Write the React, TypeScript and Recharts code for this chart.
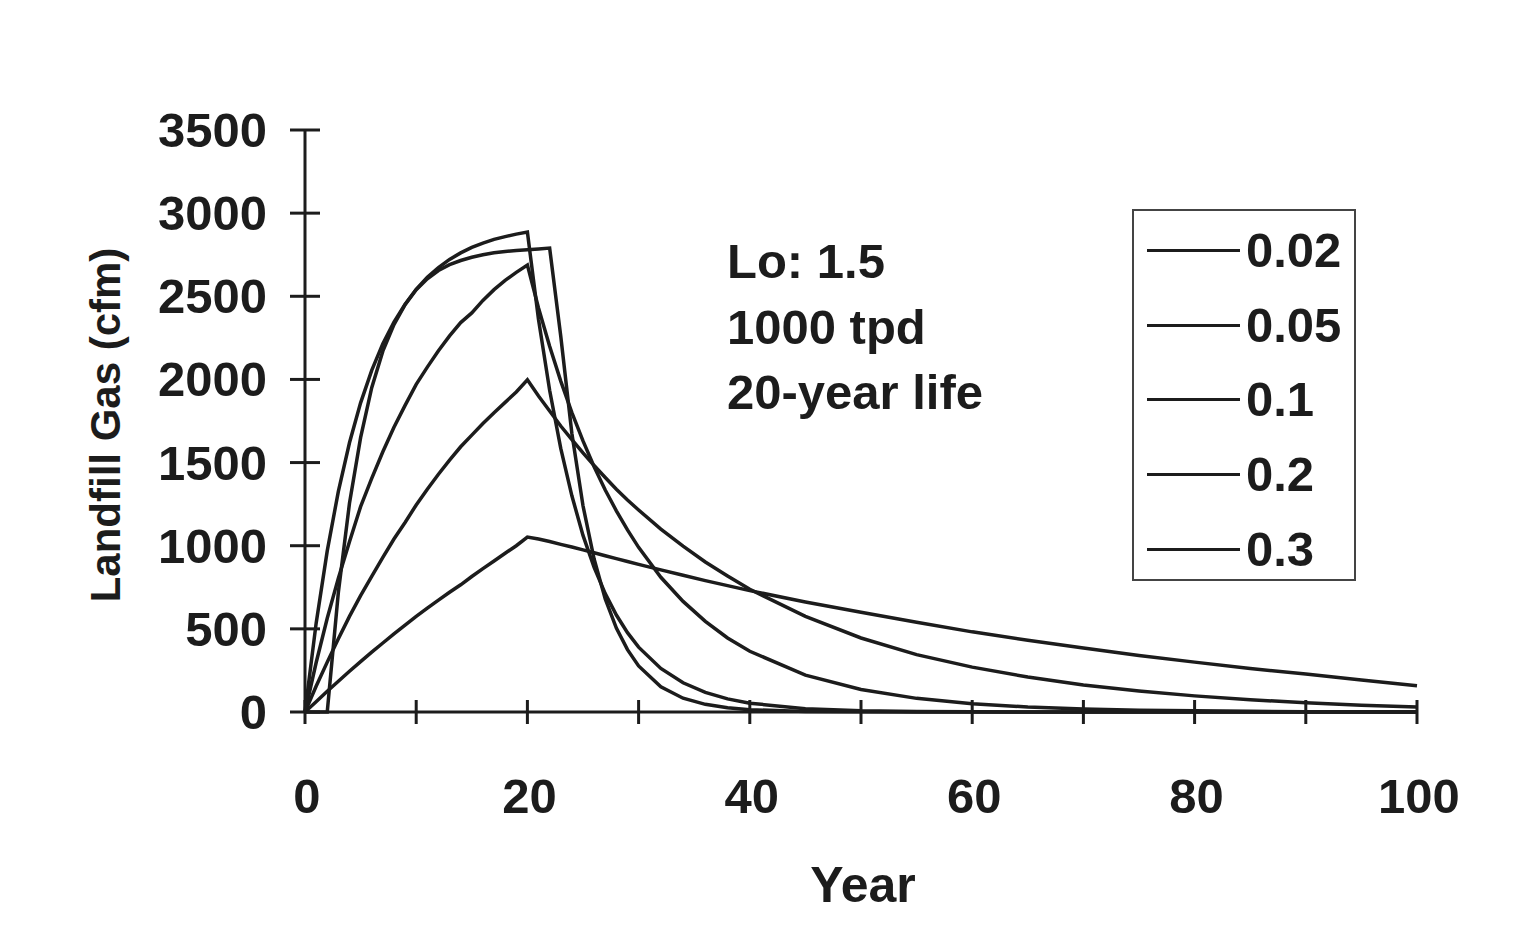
import React from 'react';
import { LineChart, Line, XAxis, YAxis, Legend } from 'recharts';

// years shared by all curves
const years = [
  0, 1, 2, 3, 4, 5, 6, 7, 8, 9, 10, 11, 12, 13, 14, 15, 16, 17, 18, 19, 20,
  21, 22, 23, 24, 25, 26, 27, 28, 29, 30,
  32, 34, 36, 38, 40,
  45, 50, 55, 60, 65, 70, 75, 80, 85, 90, 95, 100,
];

// landfill gas (cfm) per decay rate k
const k002 = [
  0, 62, 125, 185, 245, 303, 360, 415, 470, 522, 575, 625, 673, 720, 765, 815, 862, 908, 955, 1000, 1052,
  1040, 1025, 1008, 992, 975, 958, 940, 922, 905, 888,
  855, 822, 790, 760, 730,
  662, 600, 540, 482, 432, 385, 340, 300, 262, 228, 192, 158,
];
const k005 = [
  0, 155, 300, 440, 575, 700, 815, 930, 1040, 1140, 1245, 1340, 1430, 1515, 1595, 1665, 1735, 1800, 1862, 1925, 1998,
  1900, 1810, 1720, 1638, 1558, 1482, 1410, 1340, 1275, 1215,
  1100, 998, 902, 818, 738,
  575, 445, 345, 270, 210, 162, 126, 97, 74, 55, 40, 30,
];
const k01 = [
  0, 296, 564, 805, 1024, 1235, 1405, 1565, 1712, 1844, 1970, 2074, 2172, 2262, 2342, 2400, 2475, 2540, 2596, 2644, 2688,
  2430, 2200, 1990, 1800, 1630, 1475, 1335, 1210, 1095, 990,
  810, 665, 545, 445, 365,
  222, 135, 82, 50, 30, 18, 11, 7, 4, 2, 1, 0,
];
const k02 = [
  0, 533, 969, 1327, 1619, 1859, 2054, 2215, 2345, 2452, 2542, 2614, 2673, 2722, 2761, 2794, 2820, 2842, 2859, 2874, 2886,
  2360, 1935, 1585, 1300, 1062, 870, 712, 583, 477, 390,
  262, 176, 118, 79, 53,
  20, 7, 3, 1, 0, 0, 0, 0, 0, 0, 0, 0,
];
const k03 = [
  0, 0, 0, 720, 1255, 1650, 1950, 2170, 2330, 2450, 2540, 2605, 2655, 2690, 2715, 2735, 2750, 2762, 2770, 2776, 2780,
  2785, 2790, 2260, 1675, 1240, 920, 680, 505, 375, 277,
  152, 83, 46, 25, 14,
  3, 1, 0, 0, 0, 0, 0, 0, 0, 0, 0, 0,
];

const seriesNames = ['0.02', '0.05', '0.1', '0.2', '0.3'];
const seriesValues = [k002, k005, k01, k02, k03];

const xTicks = [0, 10, 20, 30, 40, 50, 60, 70, 80, 90, 100];
const yTicks = [0, 500, 1000, 1500, 2000, 2500, 3000, 3500];

const noteLines = ['Lo: 1.5', '1000 tpd', '20-year life'];

const INK = '#1c1c1c';
const FONT = '"Liberation Sans", Arial, sans-serif';
const BIG = 49;

const data = years.map((year, i) => {
  const row: Record<string, number> = { year };
  seriesNames.forEach((name, s) => {
    row[name] = seriesValues[s][i];
  });
  return row;
});

const XTick = (props: any) => {
  const { x, y, payload } = props;
  return (
    <g>
      <line x1={x} x2={x} y1={y - 12} y2={y + 12} stroke={INK} strokeWidth={3} />
      {payload.value % 20 === 0 && (
        <text x={x + 2} y={y + 101} textAnchor="middle" fill={INK} fontSize={BIG} fontWeight={700} fontFamily={FONT}>
          {payload.value}
        </text>
      )}
    </g>
  );
};

const YTick = (props: any) => {
  const { x, y, payload } = props;
  return (
    <g>
      <line x1={x - 15} x2={x + 15} y1={y} y2={y} stroke={INK} strokeWidth={3} />
      <text x={x - 38} y={y + 17} textAnchor="end" fill={INK} fontSize={BIG} fontWeight={700} fontFamily={FONT}>
        {payload.value}
      </text>
    </g>
  );
};

const YLabel = (props: any) => {
  const { viewBox } = props;
  const cx = 97;
  const cy = viewBox.y + viewBox.height / 2 + 4;
  return (
    <text
      x={cx}
      y={cy}
      transform={`rotate(-90 ${cx} ${cy})`}
      textAnchor="middle"
      dominantBaseline="central"
      fill={INK}
      fontSize={42}
      fontWeight={700}
      fontFamily={FONT}
    >
      Landfill Gas (cfm)
    </text>
  );
};

const XLabel = (props: any) => {
  const { viewBox } = props;
  return (
    <text
      x={viewBox.x + viewBox.width / 2 + 2}
      y={viewBox.y + 190}
      textAnchor="middle"
      fill={INK}
      fontSize={50}
      fontWeight={700}
      fontFamily={FONT}
    >
      Year
    </text>
  );
};

const LegendBox = (props: any) => {
  const { payload = [] } = props;
  return (
    <div
      style={{
        width: 224,
        height: 372,
        boxSizing: 'border-box',
        border: `2px solid #444`,
        background: '#fff',
        paddingTop: 2,
        fontFamily: FONT,
      }}
    >
      {payload.map((entry: any) => (
        <div key={entry.value} style={{ height: 74.8, display: 'flex', alignItems: 'center' }}>
          <div style={{ width: 93, height: 3, background: INK, marginLeft: 13 }} />
          <span style={{ marginLeft: 6, fontSize: BIG, fontWeight: 700, color: INK, lineHeight: 1 }}>
            {entry.value}
          </span>
        </div>
      ))}
    </div>
  );
};

export default function App() {
  return (
    <div style={{ position: 'relative', width: 1508, height: 929, background: '#fff' }}>
      <LineChart width={1508} height={929} data={data} margin={{ top: 122, right: 99, bottom: 125, left: 177 }}>
        <XAxis
          dataKey="year"
          type="number"
          domain={[0, 100]}
          ticks={xTicks}
          interval={0}
          height={100}
          tickSize={0}
          tickMargin={0}
          tickLine={false}
          tick={<XTick />}
          axisLine={{ stroke: INK, strokeWidth: 3 }}
          label={<XLabel />}
        />
        <YAxis
          type="number"
          domain={[0, 3500]}
          ticks={yTicks}
          interval={0}
          width={120}
          tickSize={0}
          tickMargin={0}
          tickLine={false}
          tick={<YTick />}
          axisLine={{ stroke: INK, strokeWidth: 3 }}
          label={<YLabel />}
        />
        <Legend
          layout="vertical"
          align="center"
          verticalAlign="middle"
          content={<LegendBox />}
          wrapperStyle={{ position: 'absolute', left: 1124, top: 201, width: 224, height: 372 }}
        />
        {seriesNames.map((name) => (
          <Line
            key={name}
            dataKey={name}
            name={name}
            type="linear"
            stroke={INK}
            strokeWidth={3.5}
            dot={false}
            isAnimationActive={false}
          />
        ))}
      </LineChart>
      <div
        style={{
          position: 'absolute',
          left: 719,
          top: 221,
          fontFamily: FONT,
          fontSize: BIG,
          fontWeight: 700,
          color: INK,
          lineHeight: '65.5px',
          whiteSpace: 'nowrap',
        }}
      >
        {noteLines.map((t) => (
          <div key={t}>{t}</div>
        ))}
      </div>
    </div>
  );
}
